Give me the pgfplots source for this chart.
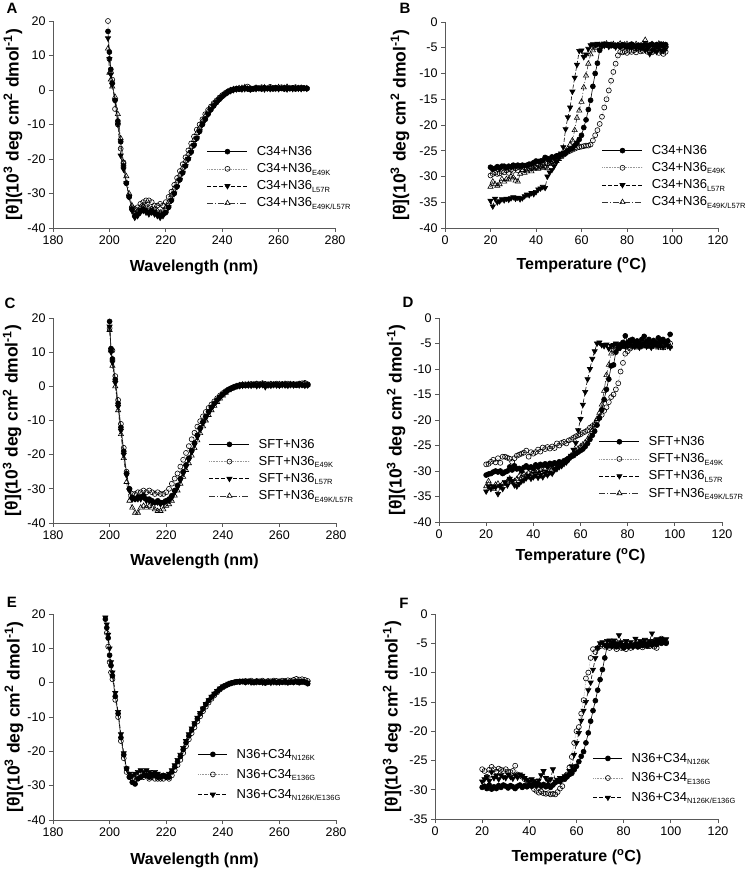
\documentclass[border=0pt]{standalone}
\usepackage{fontspec}
\setmainfont{Liberation Sans}
\usepackage{pgfplots}
\usepackage{pgfplotstable}
\pgfplotsset{compat=1.18}

\newcommand{\sub}[1]{\raisebox{-0.35ex}{\fontsize{7.5}{8}\selectfont #1}}

% ---- CD spectra (wavelength scans) ----
\pgfplotstableread{
x a b c d
199.5 17 20 15 12
200 11 9 9 5
200.5 6 5 4.5 3
201 2 3 1.5 1
202 -3 -5.5 -3 -2
203 -9 -10 -10 -7
204 -15 -17 -19 -14
205 -22 -21 -23 -21
206 -27 -27 -27 -25
207 -31 -31 -31 -30
208 -34.5 -34 -35 -33.5
209 -36.5 -34.5 -37 -35.5
210 -36 -34 -36.5 -35
211 -35 -33 -35.5 -34
212 -34.5 -32.5 -35 -33.5
213 -35 -32 -35.5 -33.5
214 -35.5 -32 -36 -34
215 -35 -32.5 -35.5 -34.5
216 -35.5 -33.5 -36 -34.5
217 -36 -33.5 -36.5 -35
218 -36.5 -33 -37 -35.5
219 -36 -33.5 -36.5 -35
220 -35.5 -32.5 -35.5 -34
221 -34 -31 -34 -32.5
222 -32 -29.5 -32 -30.5
223 -30 -27.5 -30 -28.5
224 -28 -25.5 -28 -26.5
225 -26 -23.5 -26 -24.5
226 -24 -21.5 -24 -22.5
227 -22 -19.5 -22 -20.5
228 -20 -17.5 -20 -18.5
229 -18 -15.5 -18 -16.5
230 -16 -13.5 -16 -14.5
231 -14 -11.5 -14 -12.5
232 -12 -10 -12 -11
233 -10 -8.5 -10 -9
234 -8.5 -7 -8.5 -7.5
235 -7 -5.8 -7 -6.2
236 -5.7 -4.8 -5.7 -5
237 -4.6 -3.8 -4.6 -4
238 -3.6 -3 -3.6 -3.2
239 -2.7 -2.2 -2.7 -2.4
240 -1.9 -1.5 -1.9 -1.7
241 -1.2 -0.9 -1.2 -1.1
242 -0.6 -0.4 -0.7 -0.5
243 -0.2 0 -0.3 -0.1
244 0.1 0.2 0 0.2
245 0.3 0.4 0.2 0.3
246 0.2 0.5 0.4 0.5
247 0.4 0.3 0.2 0.6
248 0.5 0.6 0.3 0.8
249 0.3 1.0 0.5 0.4
250 0.1 0.5 0.2 0.3
251 0.3 0.4 0.5 0.2
252 0.5 0.7 0.3 0.6
253 0.4 0.5 0.6 0.4
254 0.3 0.8 0.4 0.5
255 0.6 0.6 0.2 0.7
256 0.4 0.5 0.5 0.3
257 0.5 0.9 0.3 0.6
258 0.3 0.6 0.6 0.4
259 0.6 0.7 0.4 0.5
260 0.4 0.5 0.3 0.8
261 0.5 0.8 0.6 0.4
262 0.3 0.6 0.4 0.6
263 0.5 0.7 0.2 0.9
264 0.4 0.5 0.5 0.5
265 0.6 0.6 0.3 0.4
266 0.3 0.8 0.5 0.6
267 0.5 0.5 0.4 0.5
268 0.4 0.7 0.3 0.6
269 0.5 0.6 0.5 0.4
270 0.4 0.5 0.4 0.5
}\cdA

\pgfplotstableread{
x a b c d
200 19 17 17.5 16.5
200.5 11 11 10 10.5
201 8 10.5 7 6
202 2 3 1 0
203 -5 -4 -6 -7
204 -12 -11 -13 -14
205 -19 -18 -20 -21
206 -25.5 -25 -26 -28
207 -30 -30 -30.5 -33.5
208 -32.5 -31.5 -33 -35.5
209 -33 -31.5 -33 -37
210 -32.5 -31 -33 -37
211 -32.5 -31 -33 -35.5
212 -32 -30.5 -32.5 -35
213 -33 -31 -33.5 -35.5
214 -33 -30.5 -33.5 -35
215 -33.5 -31 -34 -35.5
216 -34 -31.5 -34 -36
217 -33.5 -31 -34 -36.5
218 -34 -31.5 -34.5 -36.5
219 -34 -31.5 -34 -36
220 -33.5 -31 -33.5 -35
221 -33 -30 -33.5 -34.5
222 -32 -28.5 -32.5 -33.5
223 -30.5 -27 -31 -32
224 -29 -25.5 -29.5 -30.5
225 -27 -23.5 -27.5 -28.5
226 -25 -21.5 -25.5 -26.5
227 -23 -19.5 -23.5 -24.5
228 -21 -17.5 -21.5 -22.5
229 -18.8 -15.5 -19.3 -20.3
230 -16.6 -13.6 -17.1 -18.1
231 -14.3 -11.8 -14.8 -15.8
232 -12.2 -10.2 -12.7 -13.7
233 -10.4 -8.8 -10.8 -11.7
234 -8.8 -7.5 -9.2 -10
235 -7.4 -6.3 -7.7 -8.4
236 -6.1 -5.3 -6.4 -7
237 -5 -4.4 -5.2 -5.7
238 -4 -3.5 -4.2 -4.6
239 -3.1 -2.7 -3.3 -3.6
240 -2.3 -2 -2.4 -2.7
241 -1.6 -1.4 -1.7 -1.9
242 -1 -0.9 -1.1 -1.2
243 -0.6 -0.5 -0.6 -0.7
244 -0.3 -0.1 -0.2 -0.3
245 0 0.2 0 0
246 0.2 0.4 0.1 0.3
247 0.3 0.5 0.2 0.5
248 0.2 0.6 0.4 0.3
249 0.4 0.5 0.3 0.6
250 0.3 0.7 0.2 0.4
251 0.5 0.6 0.4 0.5
252 0.3 0.8 0.1 0.6
253 0.4 0.6 0.3 0.4
254 0.5 0.9 0.4 0.7
255 0.2 0.7 -0.2 0.5
256 0.4 0.6 0.3 0.4
257 0.3 0.7 0.2 0.6
258 0.5 0.6 0.4 0.5
259 0.4 0.8 0.3 0.4
260 0.3 0.6 0.2 0.6
261 0.5 0.7 0.4 0.5
262 0.4 0.6 0.3 0.7
263 0.3 0.8 0.2 0.4
264 0.5 0.6 0.4 0.6
265 0.4 0.7 0.3 0.5
266 0.3 0.6 0.5 0.4
267 0.5 0.8 0.3 0.6
268 0.4 0.9 0.4 0.5
269 0.3 1.0 0.2 0.7
270 0.4 0.6 0.3 0.5
}\cdC

\pgfplotstableread{
x a b c
198.5 18.5 nan 19
199 16 14.5 17
199.5 13 10.5 14
200 8 6 10
200.5 5 3 6
201 2 1 3
202 -4 -5 -3
203 -9 -10 -8.5
204 -16 -17 -15
205 -21 -22 -20.5
206 -25 -26 -25
207 -27.5 -27.5 -26.5
208 -29 -28 -27
209 -29.5 -28 -26.5
210 -28 -27.5 -26
211 -27.5 -27.5 -25.5
212 -27 -27.5 -26
213 -27 -27 -25.5
214 -27.5 -28 -26
215 -27 -27.5 -26.5
216 -27 -28 -26
217 -27.5 -28 -26.5
218 -27.5 -28 -27
219 -27 -28 -27
220 -27.5 -27.5 -27
221 -27.5 -28 -26.5
222 -26 -27 -25.5
223 -24.5 -25.5 -24
224 -23 -24 -22.5
225 -21.5 -22.5 -21
226 -19.5 -20.5 -19
227 -17.5 -18.5 -17
228 -15.5 -16.5 -15
229 -13.8 -14.7 -13.3
230 -12 -13 -11.8
231 -10.5 -11.3 -10.2
232 -9 -9.8 -8.8
233 -7.6 -8.3 -7.5
234 -6.3 -7 -6.2
235 -5.2 -5.8 -5.1
236 -4.2 -4.7 -4.1
237 -3.3 -3.7 -3.2
238 -2.5 -2.8 -2.4
239 -1.8 -2 -1.7
240 -1.2 -1.4 -1.1
241 -0.8 -0.9 -0.7
242 -0.4 -0.5 -0.3
243 -0.1 -0.2 0
244 0.1 0 0.2
245 0.3 0.2 0.4
246 0.2 0.4 0.3
247 0.4 0.3 0.5
248 0.1 0.5 0.2
249 0.3 0.4 0.4
250 0.2 0.6 0.1
251 0 0.3 0.3
252 0.3 0.5 0.2
253 0.1 0.4 0.4
254 0.2 0.6 0.1
255 -0.1 0.3 0.2
256 0.2 0.5 0.3
257 0.1 0.4 0
258 0.3 0.6 0.2
259 0 0.5 0.3
260 0.2 0.4 0.1
261 0.1 0.6 0.3
262 0.3 0.5 0.2
263 0 0.7 0.1
264 0.2 0.6 0.3
265 0.1 0.8 0.2
266 0.3 1.1 0.4
267 0 0.9 0.2
268 0.2 1.0 0.5
269 0.1 0.8 0.3
270 -0.3 0.5 0.1
}\cdE

% ---- thermal melts ----
\pgfplotstableread{
T a b c d
20 -28.2 -29.8 -34.7 -32
21 -28.6 -29.5 -35.8 -31
22 -28.4 -29.2 -34.3 -31.5
23 -28.1 -29.5 -35 -31.8
24 -28.4 -29.4 -34.8 -31.5
25 -28 -29 -34.4 -30.5
26 -28 -29.2 -34.6 -31
27 -28.3 -28.8 -34.3 -30.5
28 -28 -29.3 -34.5 -30.6
29 -28.2 -28.7 -34.2 -30
30 -27.8 -28.9 -34 -30.2
31 -28 -28.4 -34.3 -30.8
32 -27.8 -28.8 -34.1 -31
33 -28 -28.3 -34.4 -29.5
34 -27.8 -28.6 -34.2 -28.8
35 -27.9 -28.2 -33.8 -29.3
36 -27.8 -28.5 -33.5 -29
37 -27.6 -28 -33.6 -28.6
38 -27.6 -28.3 -33.2 -29
39 -27.3 -28 -33.4 -28.5
40 -27 -28.2 -33 -28.3
41 -27.1 -27.7 -32.5 -28.5
42 -27 -28 -32.3 -28
43 -26.9 -27.8 -32 -28.3
44 -26.3 -27.4 -32.2 -28.1
45 -26.5 -27.5 -30 -28.4
46 -26.8 -27.2 -29.2 -27.6
47 -26.2 -27 -28.7 -27.5
48 -26.3 -26.8 -28 -27.2
49 -26 -26.5 -27.2 -27
50 -25.9 -26.2 -26.4 -26.6
51 -25.8 -26 -25.5 -26.2
52 -25.5 -25.8 -24.3 -25.8
53 -25.4 -25.5 -20.8 -25.2
54 -25 -25.2 -18.5 -24.6
55 -24.7 -25 -16.6 -23.8
56 -24.5 -24.8 -13.5 -23
57 -24 -24.6 -10.8 -21
58 -23.5 -24.4 -8.3 -18.6
59 -22.8 -24.3 -5.6 -17.2
60 -22 -24.2 -5.5 -15.5
61 -20.5 -24.1 -6.8 -12.7
62 -19 -24 -6.3 -10.4
63 -17 -24 -5.2 -8.1
64 -15.2 -23.8 -4.5 -6.3
65 -12.5 -23 -4.3 -5.5
66 -10 -22 -4.5 -5
67 -8 -21 -4.2 -4.6
68 -5.5 -19.8 -4.4 -4.5
69 -4.5 -18.4 -4.7 -4.4
70 -4.3 -16.6 -4.6 -4.5
71 -4.5 -15 -4.3 -4.2
72 -4.4 -13.3 -4.8 -4.6
73 -4.6 -11.4 -4.5 -4.4
74 -4.5 -9.7 -4.5 -4.3
75 -4.7 -8.1 -4.9 -4.6
76 -4.5 -6.5 -4.4 -4.5
77 -4.8 -5.8 -4.6 -4.2
78 -4.4 -5.9 -4.5 -4.6
79 -4.6 -5.7 -4.8 -4.4
80 -4.8 -6 -4.5 -4.3
81 -4.5 -5.6 -4.9 -4.8
82 -4.3 -5.8 -5 -4.5
83 -4.6 -5.5 -4.8 -4.6
84 -4.7 -5.9 -5.1 -4.3
85 -4.5 -5.4 -4.9 -4.8
86 -4.8 -5.7 -5.2 -4.6
87 -4.6 -5.6 -5 -4.2
88 -4.4 -5.3 -5.4 -3.5
89 -4.6 -5.8 -5.3 -4.4
90 -4.5 -5.5 -6.2 -4.6
91 -4.3 -5.9 -5.5 -4.3
92 -4.6 -5.6 -5.4 -4.8
93 -4.4 -5.4 -5.8 -4.5
94 -4.5 -6 -5.2 -4.2
95 -4.3 -5.7 -5.5 -4.6
96 -4.7 -6.2 -5.6 -4.4
97 -4.4 -5.8 -5.2 -4.5
}\tmB

\pgfplotstableread{
T a b c d
20 -30.8 -28.7 -34 -33
21 -30.6 -28.6 -33 -32
22 -30.5 -28.2 -33.5 -33
23 -30.2 -27.8 -33 -33.5
24 -30 -28.3 -33.2 -32.7
25 -30.2 -27.5 -34.5 -32.5
26 -30 -28.4 -33 -33
27 -30.5 -27.2 -33.5 -32.5
28 -30.2 -27.2 -32.2 -32.4
29 -30 -27.4 -32.8 -32
30 -29.2 -27.6 -31.5 -31.5
31 -29.8 -28.2 -32 -32.2
32 -29 -27.5 -32.8 -32
33 -29.6 -27 -33 -31.6
34 -29.5 -26.8 -32.5 -31
35 -30 -26.6 -32 -31.3
36 -29.3 -26.4 -31.8 -30.6
37 -29 -26 -31.4 -30.8
38 -29.4 -27.2 -31 -30.4
39 -29.2 -26.3 -31.5 -30.6
40 -29.5 -26.6 -31.2 -30
41 -28.8 -26.3 -30.8 -30.3
42 -29.2 -25.8 -31.3 -30
43 -28.7 -26.2 -30.8 -29.8
44 -28.9 -25.4 -31.2 -30.2
45 -28.6 -25.7 -30.5 -29.6
46 -29 -25.3 -30.8 -29.8
47 -28.5 -25.6 -30.3 -29.3
48 -28.8 -25.2 -30.5 -29.5
49 -28.4 -25.5 -29.8 -29
50 -28.6 -24.6 -29.6 -29.2
51 -28.2 -25 -29.2 -28.8
52 -28.4 -24.5 -29 -28.5
53 -28 -24.3 -28.6 -28.4
54 -27.8 -24.6 -28.3 -27.8
55 -27.5 -24 -27.8 -27.5
56 -27.2 -23.8 -27 -27
57 -27 -23.5 -25.8 -26.5
58 -26.6 -23.2 -24.5 -26
59 -26.3 -23 -22 -25.6
60 -26 -22.8 -19.8 -25.2
61 -25.7 -22.5 -17 -24.8
62 -25.2 -22.3 -14.5 -24.4
63 -24.6 -22 -12 -23.8
64 -23.8 -21.5 -10 -23
65 -23 -21.2 -8 -22
66 -22.2 -20.8 -6.5 -21
67 -21 -20.2 -5 -19.8
68 -19.6 -19.6 -4.8 -18.6
69 -18 -19 -5.3 -17
70 -16 -18.2 -5.5 -14.3
71 -14 -17.5 -5.2 -11.2
72 -12 -16.5 -6 -9.2
73 -9.4 -15.5 -5.5 -7
74 -9.2 -15 -5.3 -6.2
75 -6.7 -14 -5 -5.8
76 -6 -12.8 -5.5 -5.5
77 -5.2 -10.5 -5.8 -5.6
78 -4.8 -8.8 -5.4 -5.3
79 -3.5 -7 -5.6 -5.7
80 -4.8 -6.5 -5.2 -5.5
81 -4.4 -6 -5 -5.8
82 -4.2 -5.6 -5.4 -5.2
83 -4.8 -5.3 -5.6 -5.5
84 -4.5 -5.5 -5.2 -5.8
85 -5 -5.2 -5.8 -5.4
86 -4.2 -4.9 -5.5 -5.6
87 -3.6 -5.3 -5 -5.2
88 -4.6 -5 -5.6 -5.5
89 -4.2 -5.4 -5.2 -5.7
90 -5 -5.1 -5.8 -5.3
91 -4.4 -4.8 -5.4 -5.6
92 -4.8 -5.2 -5.1 -5.4
93 -3.9 -5 -5.6 -5.8
94 -4.5 -4.6 -5.3 -5.5
95 -4.2 -5.2 -5.7 -5.9
96 -4.8 -4.8 -5.2 -5.6
97 -4.5 -5 -5.5 -5.3
98 -3.2 -5 -5.8 -5.6
}\tmD

\pgfplotstableread{
T a b c
20 -29.6 -26.5 -28.6
21 -29.4 -26.8 -28.2
22 -29.8 -27.8 -27.8
23 -29.2 -26.6 -28.5
24 -29.9 -26.1 -27
25 -29.5 -26.5 -28
26 -29.8 -26.9 -27.6
27 -29.3 -26.4 -28.2
28 -29.6 -26.6 -27.5
29 -29.2 -26.8 -27.8
30 -29.4 -26.5 -28
31 -29.7 -26.9 -27.4
32 -29.3 -27 -27.8
33 -29.5 -26.8 -28.1
34 -29.8 -25.9 -27.5
35 -29.4 -27.4 -27.9
36 -29.2 -27.6 -27.4
37 -29.6 -27.8 -27.6
38 -29.3 -28.2 -28
39 -29.5 -28.5 -28.3
40 -29.2 -28.9 -28.6
41 -29.4 -29.3 -28.2
42 -29 -29.9 -28.5
43 -29.3 -30.2 -28.8
44 -29.1 -30.5 -28.4
45 -29.4 -30.3 -27.5
46 -29.1 -30.6 -26.8
47 -29.5 -30.7 -28
48 -29.2 -30.6 -28.5
49 -29.6 -30.8 -28.2
50 -29.2 -30.7 -26.5
51 -28.8 -30.8 -28.6
52 -28.5 -30.4 -28.3
53 -28.6 -29.8 -28
54 -28.2 -29.4 -28.1
55 -28.1 -28.2 -27.7
56 -27.8 -27.4 -27.5
57 -27.4 -26.2 -26.8
58 -27.2 -24.4 -26
59 -26.6 -22 -24
60 -26 -20 -22
61 -25.2 -19.3 -20.3
62 -24.3 -17 -18.2
63 -23.5 -14.7 -16.5
64 -22 -11 -15
65 -20.3 -10 -13
66 -18.3 -7.5 -11.7
67 -16.5 -6 -9.5
68 -14.8 -6.5 -7.5
69 -13 -5.8 -5.8
70 -11.2 -5.5 -5
71 -9.5 -5.2 -4.8
72 -7.5 -5.6 -5.3
73 -5.5 -5.3 -4.6
74 -5.4 -5.8 -4.5
75 -5.5 -5.4 -4.8
76 -5.2 -5.6 -4.5
77 -5.6 -6 -5
78 -5.2 -5.5 -3.6
79 -5.4 -5.8 -4.8
80 -5.8 -5.5 -5.3
81 -5.2 -6 -4.6
82 -5.6 -5.4 -5.5
83 -5.3 -5.8 -4.8
84 -5.5 -5.5 -5.6
85 -5.2 -5.2 -4.2
86 -5.6 -5.6 -5
87 -5.1 -5.3 -4.6
88 -5.4 -5.7 -4.8
89 -5.2 -5.4 -4.4
90 -5.5 -5.2 -5
91 -4.9 -5.5 -4.6
92 -5.3 -5.1 -3.3
93 -5 -5.6 -4.6
94 -5.2 -5.8 -4.3
95 -4.6 -4.8 -4.8
96 -5 -4.2 -4.2
97 -4.8 -4.6 -4.5
98 -5 -4.8 -4.3
}\tmF

\pgfplotsset{
  panel/.style={
    scale only axis, clip=false,
    axis lines=left, axis line style={-, black!65, line width=0.7pt},
    tick align=outside, major tick length=4pt,
    tick style={black!65, line width=0.7pt},
    /pgf/number format/assume math mode=true,
    tick label style={font=\fontsize{12.5}{14}\selectfont},
    every axis label/.style={font=\bfseries\fontsize{16}{18}\selectfont},
    ylabel={\fontsize{17.5}{19}\selectfont[θ](10\textsuperscript{3} deg cm\textsuperscript{2} dmol\textsuperscript{-1})},
    legend cell align=left,
    legend style={draw=none, fill=none, anchor=north west, inner sep=0pt,
      font=\fontsize{13}{15}\selectfont, row sep=2.6pt,
      /tikz/every odd column/.append style={column sep=7pt}},
    legend image code/.code={\draw[mark repeat=2,mark phase=2,##1]
      plot coordinates {(0pt,0pt) (20pt,0pt) (40pt,0pt)};},
  },
  shortleg/.style={
    legend image code/.code={\draw[mark repeat=2,mark phase=2,##1]
      plot coordinates {(0pt,0pt) (14.5pt,0pt) (29pt,0pt)};},
  },
  cd/.style={panel, xmin=180, xmax=280, ymin=-40, ymax=20,
    xtick={180,200,...,280}, ytick={-40,-30,...,20},
    xlabel={Wavelength (nm)}},
  tm/.style={panel, xmin=0, xmax=120, ymin=-40, ymax=0,
    xtick={0,20,...,120}, ytick={-40,-35,...,0},
    xlabel={Temperature (\textsuperscript{o}C)}},
  labpos/.style 2 args={
    every axis y label/.style={at={(axis description cs:#1,0.5)},rotate=90,anchor=center},
    every axis x label/.style={at={(axis description cs:0.5,#2)},anchor=center}},
  sA/.style={black, line width=0.6pt, mark=*, mark size=2.5pt,
    mark options={solid, fill=black}},
  sB/.style={black!40, densely dotted, line width=0.6pt, mark=o, mark size=2.5pt,
    mark options={solid, draw=black, fill=white}},
  sC/.style={black, dash pattern=on 4pt off 2pt, line width=0.6pt, mark=triangle*,
    mark size=3pt, mark options={solid, fill=black, rotate=180}},
  sD/.style={black!80, dash pattern=on 6pt off 2pt on 1pt off 2pt, line width=0.6pt,
    mark=triangle, mark size=3pt, mark options={solid, draw=black, fill=white}},
}

\begin{document}
\begin{tikzpicture}
\useasboundingbox (0,0) rectangle (750pt,871pt);

\node[font=\bfseries\fontsize{15}{17}\selectfont] at (12pt,863pt) {A};
\node[font=\bfseries\fontsize{15}{17}\selectfont] at (405pt,863pt) {B};
\node[font=\bfseries\fontsize{15}{17}\selectfont] at (10pt,568pt) {C};
\node[font=\bfseries\fontsize{15}{17}\selectfont] at (408pt,569pt) {D};
\node[font=\bfseries\fontsize{15}{17}\selectfont] at (12pt,269pt) {E};
\node[font=\bfseries\fontsize{15}{17}\selectfont] at (404pt,268pt) {F};

% A
\begin{axis}[cd, labpos={-0.142}{-0.188}, at={(53pt,643pt)}, anchor=south west,
  width=282pt, height=207pt, legend style={at={(0.546,0.405)}}]
\addplot[sA] table[x=x,y=a]{\cdA};
\addplot[sB] table[x=x,y=b]{\cdA};
\addplot[sC] table[x=x,y=c]{\cdA};
\addplot[sD] table[x=x,y=d]{\cdA};
\legend{C34+N36, C34+N36\sub{E49K}, C34+N36\sub{L57R}, C34+N36\sub{E49K/L57R}}
\end{axis}

% B
\begin{axis}[tm, labpos={-0.165}{-0.18}, at={(445pt,643pt)}, anchor=south west,
  width=273pt, height=206pt, legend style={at={(0.575,0.412)}}]
\addplot[sA] table[x=T,y=a]{\tmB};
\addplot[sB] table[x=T,y=b]{\tmB};
\addplot[sC] table[x=T,y=c]{\tmB};
\addplot[sD] table[x=T,y=d]{\tmB};
\legend{C34+N36, C34+N36\sub{E49K}, C34+N36\sub{L57R}, C34+N36\sub{E49K/L57R}}
\end{axis}

% C
\begin{axis}[cd, labpos={-0.145}{-0.185}, at={(53pt,348pt)}, anchor=south west,
  width=283pt, height=205pt, legend style={at={(0.551,0.42)}}]
\addplot[sA] table[x=x,y=a]{\cdC};
\addplot[sB] table[x=x,y=b]{\cdC};
\addplot[sC] table[x=x,y=c]{\cdC};
\addplot[sD] table[x=x,y=d]{\cdC};
\legend{SFT+N36, SFT+N36\sub{E49K}, SFT+N36\sub{L57R}, SFT+N36\sub{E49K/L57R}}
\end{axis}

% D
\begin{axis}[tm, labpos={-0.152}{-0.167}, at={(439pt,349pt)}, anchor=south west,
  width=283pt, height=204pt, legend style={at={(0.565,0.43)}}]
\addplot[sA] table[x=T,y=a]{\tmD};
\addplot[sB] table[x=T,y=b]{\tmD};
\addplot[sC] table[x=T,y=c]{\tmD};
\addplot[sD] table[x=T,y=d]{\tmD};
\legend{SFT+N36, SFT+N36\sub{E49K}, SFT+N36\sub{L57R}, SFT+N36\sub{E49K/L57R}}
\end{axis}

% E
\begin{axis}[cd, shortleg, labpos={-0.138}{-0.194}, at={(53pt,51pt)}, anchor=south west,
  width=283pt, height=206pt, legend style={at={(0.512,0.355)}, row sep=5.5pt}]
\addplot[sA] table[x=x,y=a]{\cdE};
\addplot[sB] table[x=x,y=b]{\cdE};
\addplot[sC] table[x=x,y=c]{\cdE};
\legend{N36+C34\sub{N126K}, N36+C34\sub{E136G}, N36+C34\sub{N126K/E136G}}
\end{axis}

% F
\begin{axis}[tm, shortleg, ymin=-35, ytick={-35,-30,...,0}, labpos={-0.152}{-0.185},
  at={(435pt,52pt)}, anchor=south west, width=283pt, height=205pt,
  legend style={at={(0.558,0.332)}, row sep=5pt}]
\addplot[sA] table[x=T,y=a]{\tmF};
\addplot[sB] table[x=T,y=b]{\tmF};
\addplot[sC] table[x=T,y=c]{\tmF};
\legend{N36+C34\sub{N126K}, N36+C34\sub{E136G}, N36+C34\sub{N126K/E136G}}
\end{axis}
\end{tikzpicture}
\end{document}
